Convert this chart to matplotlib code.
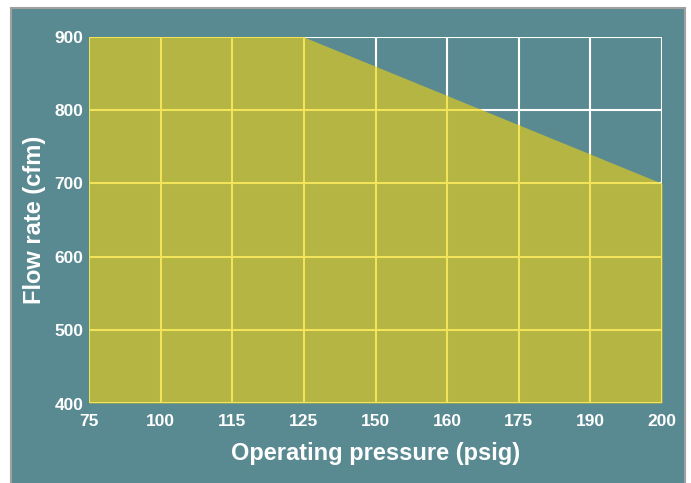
import matplotlib
matplotlib.use("Agg")
import matplotlib.pyplot as plt
from matplotlib.patches import Rectangle
from matplotlib import font_manager as fm
from matplotlib.transforms import offset_copy

pressure_labels = ["75", "100", "115", "125", "150", "160", "175", "190", "200"]
flow_rate = [900, 900, 900, 900, 860, 820, 780, 740, 700]
y_ticks = [400, 500, 600, 700, 800, 900]

names = {f.name for f in fm.fontManager.ttflist}
fam = ["Liberation Sans Narrow", "Liberation Sans", "DejaVu Sans"]
fam = [f for f in fam if f in names] or ["DejaVu Sans"]
plt.rcParams["font.family"] = fam

teal = "#5a8a91"
olive = "#b4b543"
gridyellow = "#f2e35a"

fig = plt.figure(figsize=(6.91, 4.83), dpi=100)
fig.patch.set_facecolor("white")
fig.patches.append(Rectangle((11/691, -0.05), (685-11)/691, 1.05 - 8/483,
                             transform=fig.transFigure, facecolor=teal,
                             edgecolor="#a0a0a0", linewidth=1.5, zorder=-10))

ax = fig.add_axes([89/691, 1 - 403/483, (662-89)/691, (403-37)/483])
ax.set_facecolor(teal)
x = list(range(len(pressure_labels)))
ax.set_xlim(0, len(x) - 1)
ax.set_ylim(400, 900)

# white grid behind
for xi in x:
    ax.axvline(xi, color="white", lw=1.5, zorder=1)
for yt in y_ticks:
    ax.axhline(yt, color="white", lw=1.5, zorder=1)

poly = ax.fill_between(x, 400, flow_rate, color=olive, lw=0, zorder=2)
clip = poly.get_paths()[0]
for xi in x:
    l = ax.axvline(xi, color=gridyellow, lw=1.5, zorder=3)
    l.set_clip_path(clip, ax.transData)
for yt in y_ticks:
    l = ax.axhline(yt, color=gridyellow, lw=1.5, zorder=3)
    l.set_clip_path(clip, ax.transData)

for s in ax.spines.values():
    s.set_visible(False)

ax.set_xticks(x)
ax.set_xticklabels(pressure_labels)
ax.set_yticks(y_ticks)
ax.set_yticklabels(["", "500", "600", "700", "800", "900"])
ax.tick_params(axis="x", length=0, colors="white", labelsize=12.5, pad=8)
ax.tick_params(axis="y", length=0, colors="white", labelsize=12.5, pad=4)
for t in ax.get_xticklabels() + ax.get_yticklabels():
    t.set_fontweight("bold")
tr = offset_copy(ax.get_yaxis_transform(), fig=fig, x=-4, y=-2, units="points")
ax.text(0, 400, "400", transform=tr, ha="right", va="center",
        color="white", fontsize=12.5, fontweight="bold")

ax.set_xlabel("Operating pressure (psig)", color="white", fontsize=17,
              fontweight="bold", labelpad=9)
ax.set_ylabel("Flow rate (cfm)", color="white", fontsize=17,
              fontweight="bold", labelpad=6)

fig.savefig("out.png", dpi=100, facecolor=fig.get_facecolor())
